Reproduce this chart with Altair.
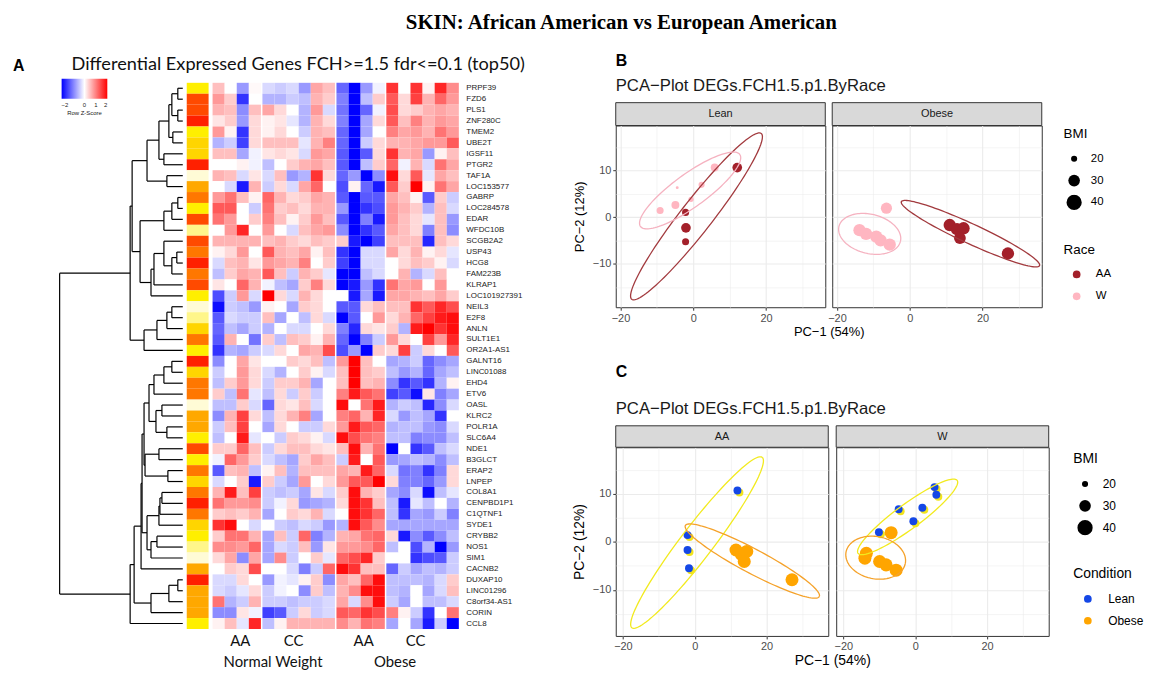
import altair as alt
import pandas as pd
import numpy as np

# ------------------------------------------------------------------ Panel A data
GENES = ["PRPF39", "FZD6", "PLS1", "ZNF280C", "TMEM2", "UBE2T", "IGSF11", "PTGR2", "TAF1A", "LOC153577",
         "GABRP", "LOC284578", "EDAR", "WFDC10B", "SCGB2A2", "USP43", "HCG8", "FAM223B", "KLRAP1", "LOC101927391",
         "NEIL3", "E2F8", "ANLN", "SULT1E1", "OR2A1-AS1", "GALNT16", "LINC01088", "EHD4", "ETV6", "OASL",
         "KLRC2", "POLR1A", "SLC6A4", "NDE1", "B3GLCT", "ERAP2", "LNPEP", "COL8A1", "CENPBD1P1", "C1QTNF1",
         "SYDE1", "CRYBB2", "NOS1", "SIM1", "CACNB2", "DUXAP10", "LINC01296", "C8orf34-AS1", "CORIN", "CCL8"]

# column group of each of the 20 samples: AA normal, CC normal, AA obese, CC obese
COL_GROUP = [0, 0, 0, 0, 1, 1, 1, 1, 1, 1, 2, 2, 2, 2, 3, 3, 3, 3, 3, 3]

HEAT = [
    [0.5, 0, -0.8, 0.05, -0.3, -0.4, -0.3, -0.8, 0.7, 0.5, -1.2, -2, -0.8, -0.1, 1.6, 0, 1.6, 0.1, 1.7, 0.9],
    [0.8, 0.4, -1.6, 0, -0.6, -0.6, -0.4, -0.5, 0.6, 0.4, -1.0, -2, -0.5, 0.4, 1.3, 0.3, 1.5, 0.6, 1.2, 0.8],
    [0.6, 0.5, -0.9, 0.5, 0.7, 0.3, 0, -0.6, 0.8, -0.3, -1.1, -2, -1.2, -0.1, 1.4, 0.3, 0.4, 0.6, 0.7, 0.6],
    [0.2, 0.4, -0.8, 0.3, 0.1, 0.2, -0.2, -0.6, 0.6, 0.3, -1.0, -2, -0.7, 0.3, 1.3, 0.5, 1.0, 0.6, 0.8, 0.7],
    [0.8, 0.1, -1.6, 0.3, 0.1, 0.3, 0, -0.4, 0.6, 0.5, -1.2, -2, -0.7, 0, 1.0, 0.7, 0.8, 0.6, 1.1, 0.8],
    [-0.6, -0.4, -1.5, 0.3, 0.5, 0.5, 0.5, -0.2, 0.6, 1.0, -1.2, -2, -0.4, 0.3, 0.6, 0.6, 0.7, 0.8, 0.8, 1.3],
    [0.5, 0.5, -0.7, -0.1, 0.2, 0.3, 0.2, -0.3, 0.8, 0.7, -1.3, -2, -1.3, 0.3, 1.6, 0.6, 0.7, -0.8, 0.1, 0.5],
    [0, 0, 0.1, -0.1, -0.5, 0, 0.4, 0.6, 0.7, 0.5, -1.3, -2, -0.5, 0.4, 1.2, -0.1, 0.6, -0.3, 1.1, 0.7],
    [0.6, 0.5, -0.3, 0.2, -0.3, 0.5, -0.8, -0.6, 1.6, 0.3, -1.2, -0.8, -2, -0.9, 1.9, 0.3, 1.3, -0.2, 0.7, 0.5],
    [0, -0.3, -1.8, 0.6, -0.4, 0.3, -0.3, 0.7, 1.2, 0, -1.4, 0.1, -1.2, -1.8, 1.3, 0.4, 2.0, 0.1, 1.1, 0.7],
    [0.8, 1.1, 0.5, 0.1, 1.2, 0.6, 0.3, 0.4, 0.7, 0.6, -1.3, -2, -1.3, -1.3, 0.7, 0.5, 0.1, -1.3, 0.4, -0.4],
    [1.3, 1.3, 0, -0.4, 1.1, 0.4, 0.5, 0.3, 0.6, 0.6, -0.8, -2, -1.6, -1.4, 0.8, 0.6, 0.4, -0.6, 0.5, -0.3],
    [1.1, 0.8, 0, 0.4, 1.0, 0.5, 0.1, 0.4, 0.8, 0.5, -1.3, -2, -1.0, -1.8, 0.8, 0.5, 0.3, -0.2, 0.5, -0.8],
    [0, 0.8, 1.7, 0, 0.8, 0, -0.3, 0.5, 0.7, 0.8, -0.9, -2, -1.6, -1.3, 0.7, 0.5, 0.3, -1.0, 0.5, -0.9],
    [0.6, 0.6, 0.6, 0.6, 0.5, 0.6, 0.4, 0.3, 0.5, 0.4, 0.4, -1.8, -2, -1.5, 0.5, 0.5, 0.5, -1.7, 0.5, 0.3],
    [0.1, 0.3, 0.8, 0, 1.3, 0.6, 0.5, 0.7, 0.1, 0.5, -1.6, -2, -0.3, -0.3, 0.7, 0.3, 0.6, 0.1, 0.3, -0.2],
    [-0.3, 0.5, 0.6, 0.2, 0.8, 0.7, 0.6, 1.0, 0, 0.4, -1.5, -2, -0.3, -0.3, 0, 0.3, 0.5, 0.4, 0.1, -0.3],
    [-0.5, 0.4, 0.7, 0.6, 1.3, 0.5, -0.4, 0.6, 0.4, -0.2, -2, -2, -0.5, -0.3, 0, 0.6, -0.6, -0.3, 0.5, 0],
    [0.2, 0, 1.2, 0.6, -0.1, -0.5, -0.7, 0.4, 1.0, 0.3, -2, -1.8, -0.8, -1.6, 1.1, 0.7, 0.8, 0, 0.8, 0],
    [-1.4, -0.4, 0.8, -0.3, 2.0, 0.3, -0.3, 0.6, 0.3, 0, 0, -1.8, -0.7, -1.8, 0.7, 0.7, 0.6, 0.5, 0.7, 0.4],
    [-1.9, -0.4, -0.5, -0.8, 0.1, 0, -0.7, 0.4, 0.3, 0, -1.3, -1.3, 0.3, 0.5, 0.5, 0.5, 1.6, 1.3, 1.7, 1.4],
    [-1.3, -0.3, -0.4, -0.4, 0.5, -0.7, 0, -0.5, 0.3, -0.3, -2, -1.3, 0, 0.8, 0.3, 0.6, 1.2, 1.5, 1.8, 1.9],
    [-1.2, -0.5, -0.7, -0.4, -0.6, 0, -0.3, -0.3, 0, 0.3, -1.0, -1.7, 0.3, 0.2, 0.4, -0.6, 1.8, 2.0, 1.6, 1.9],
    [-1.3, 0.6, 0, -1.1, 0.4, -0.5, 0.5, 0.4, 0.1, 0.6, -1.2, -2, -1.0, -0.4, 0.8, 0.3, 0, 1.5, 0.8, 1.7],
    [-1.6, -0.6, -0.7, -0.4, -0.3, 0.3, 0, 0.7, 0.6, 1.4, -1.4, -0.8, -2.0, 0.4, 0.3, 1.5, -0.4, 0.3, 0, 1.3],
    [-0.9, 0, 0.7, 0.2, 0, 0, 0.4, 0.3, 0.5, -0.5, 0.8, 2.0, 0.5, 0, -0.7, -0.6, -0.4, -1.2, -0.9, -0.7],
    [-0.4, 0, 0.8, 0.3, -0.3, -0.6, 0, 0.4, 0.1, -0.3, 0.5, 2.0, 0.5, 0.4, -0.5, -0.8, -0.6, -1.2, -0.7, -0.5],
    [-0.5, 0.4, 0.8, 0.3, -0.4, 0.4, 0.4, 0.6, -0.7, 0, 0.5, 2.0, 0.5, 0.6, -0.9, -1.6, -1.3, -1.6, -0.6, 0.1],
    [0.4, -0.5, 1.1, -0.2, -0.5, 0.3, -0.4, 0.4, -0.4, 0, 1.0, 1.8, 1.3, 1.1, -1.5, -1.3, -1.9, 0.2, -1.0, -0.7],
    [-0.5, -0.5, 0.4, -0.3, -1.2, 0.3, 0.2, 0.5, -0.3, 0, 1.9, 0, 1.1, 1.8, -0.6, -0.4, -0.5, -1.7, -0.9, -0.3],
    [-0.9, 0.6, 1.5, 0.3, -0.5, 0.3, 0.6, 1.0, -0.7, 0, 1.0, 1.2, 0.6, 1.7, -0.3, -0.8, -0.5, -0.7, -1.6, 0],
    [-0.4, 0.5, 1.5, 0, -0.7, 0.3, 0, -0.4, -0.4, 0.3, 0.8, 1.8, 1.3, 1.2, -0.6, -0.5, -0.5, -0.8, -0.9, -0.3],
    [-0.5, 0, 1.8, -0.2, 0, -0.4, 0.4, 0.3, 0.1, -0.3, 1.9, 1.4, 1.1, 1.0, -0.5, -0.5, -1.0, -0.9, -0.9, -0.5],
    [0.4, 0.4, 1.2, 0.5, -0.4, 0.3, 0.5, 0.5, 0.3, 0.2, 0.5, 1.9, 0.6, 1.1, -2.0, 0, -1.6, -1.3, -0.5, -0.3],
    [-0.1, 1.2, 0.8, 0.4, -0.3, -0.5, -0.7, 0.4, 0.7, 0.5, -0.4, 1.8, 0, 1.3, -0.8, -0.7, -0.5, -0.6, -0.9, -0.5],
    [-1.3, 0.5, 0.6, -0.5, 0.1, 0.5, -0.6, 0.5, 0.5, 0.5, 0.7, 0.6, 1.8, 1.2, -0.3, -1.1, -1.0, -1.6, -1.0, 0.3],
    [-0.3, 0, 0.4, -1.8, 0.4, -0.4, -0.7, 0.8, 0, 0.3, 0.8, 1.3, 1.3, 2.0, 0.3, -1.0, -1.0, -1.2, -0.8, 0.3],
    [0.6, 1.8, 0.5, 1.5, -0.4, -0.5, -0.4, -0.7, 0.2, -0.3, 0.4, 1.9, 0.6, 0.4, -0.7, -0.9, -0.3, -1.9, -0.5, -0.2],
    [1.1, 0.8, 0.8, 0.9, -0.4, -0.1, 0.3, -0.8, -0.7, -0.6, 0.3, 1.9, 1.6, 0.5, -0.5, -1.8, -0.2, -0.5, 0, -0.6],
    [0.4, 0.5, 0.4, 0.6, -0.7, 0, 0.4, 0.3, 0.6, -0.3, 0, 1.9, 1.6, 1.2, -0.5, -1.6, -0.7, -0.8, -0.4, -1.0],
    [1.6, 1.9, 0, -0.3, 0, -0.4, -0.5, -0.3, -0.4, -0.8, -0.6, 1.9, 1.3, 0.9, -0.7, -0.7, -0.7, -0.7, -0.7, -0.7],
    [0.4, 1.1, 1.1, 0.6, -0.7, 0.5, -0.4, 1.2, -1.0, -0.6, 0.6, 0.7, 1.1, 1.2, 0.3, -1.8, -0.9, -1.3, -0.9, -0.5],
    [0.9, 0.9, 0.8, 1.2, -0.7, -0.3, -0.4, 0.5, -0.8, 0.2, 0.8, 0.8, 0.9, 1.2, -0.5, 0, -1.4, -0.6, -2.0, -0.8],
    [0.3, 0.7, -0.9, 0.7, -0.7, 0.9, -0.4, 0, 0.4, -0.2, 1.2, 1.4, 1.7, 0.4, 0, 0, -1.6, -1.4, -1.3, -0.4],
    [0, 0.4, 0.3, 1.4, 0, 0, -0.3, -1.0, -0.4, 1.2, 1.9, 1.6, 0.5, 0.5, -1.2, -0.4, -0.7, -0.5, -0.6, -0.4],
    [-0.3, -0.3, 0.3, 0, -0.8, -0.1, -0.2, 0.1, 0.4, -0.9, 0.7, 0.5, 1.2, 1.9, -0.5, -0.5, -0.5, -0.6, -0.3, 0.4],
    [-0.3, -0.4, -0.2, 0.3, -0.4, -0.1, 0, -0.9, 0.4, -0.5, 0.6, 0.9, 1.9, 1.9, -0.5, -0.6, 0, -0.7, -0.3, 0.5],
    [1.1, -0.6, -0.4, 0.6, -0.4, -0.4, -0.5, -0.4, -0.4, -0.3, 0.7, -0.3, 0.9, 1.9, -0.4, -0.7, 0, -0.5, -0.5, -0.3],
    [-0.9, -0.9, 0.2, -0.1, -1.5, -1.3, -0.4, 0.3, -0.4, -0.3, 1.3, 1.2, 1.6, 1.4, 1.0, 0.1, -0.4, -1.6, 0, 1.1],
    [0.1, 0.5, -0.2, 1.7, -0.5, 0.1, 0.6, 0.6, 0.6, 0.6, 0.9, 0.6, 1.1, 1.0, -0.7, 0, -0.7, -1.8, -0.4, -2.0],
]

# row side colour bar (category level per gene)
SIDE_LEVEL = [3, 7, 7, 8, 3, 4, 4, 8, 1, 5,
              6, 3, 7, 2, 7, 6, 8, 6, 7, 3,
              1, 2, 4, 6, 3, 8, 4, 6, 6, 1,
              5, 5, 3, 7, 3, 6, 4, 6, 8, 6,
              4, 3, 2, 1, 5, 8, 5, 5, 5, 3]
SIDE_COLORS = ["#FFFBD6", "#FFF68A", "#FFEF00", "#FFD500", "#FFA800", "#FF7700", "#FF4A00", "#FF2000"]

GROUP_LABELS = ["AA", "CC", "AA", "CC"]
GROUP_LABEL_POS = [2.3, 6.7, 12.5, 16.8]
COND_LABELS = ["Normal Weight", "Obese"]
COND_LABEL_POS = [5.0, 15.1]

# row dendrogram: (merge height, left, right); leaves are row indices
TREE = (124,
        (53,
         (51,
          (36,
           (24, (14, (11, (5, 0, 1), (5, 2, 3)), (10, 4, 5)), (19, 6, 7)),
           (16, 8, 9)),
          (43,
           (19, (11, (5, 10, 11), 12), 13),
           (32, (29, (19, 14, (11, (6, 15, 16), 17)), 18), 19))),
         (39, (26, (16, (11, 20, 21), 22), 23), 24)),
        (53,
         (49,
          (42,
           (41,
            (39,
             (34, (29, (19, (11, 25, 26), 27), 28), (27, (21, 29, 30), (16, 31, 32))),
             (38, (24, 33, 34), (15, 35, 36))),
            (36, (24, (23, (21, 37, 38), 39), 40), (32, (26, 41, 42), 43))),
           44),
          (32, (14, (5, 45, 46), 47), 48)),
         49))

# ------------------------------------------------------------------ Panel B data (by race)
B_PANEL = ["Lean"] * 10 + ["Obese"] * 11
B_RACE = ["AA", "AA", "AA", "AA", "W", "W", "W", "W", "W", "W",
          "AA", "AA", "AA", "AA", "AA", "W", "W", "W", "W", "W", "W"]
B_PC1 = [12.1, -2.1, -2.0, -2.1, 5.9, 2.3, -4.4, -0.6, -4.9, -9.1,
         11.0, 13.0, 14.8, 13.8, 27.0, -6.4, -13.8, -12.0, -9.2, -8.0, -5.5]
B_PC2 = [10.6, 1.0, -2.3, -5.3, 10.6, 6.9, 6.3, 3.8, 2.6, 1.4,
         -1.7, -2.6, -2.4, -4.5, -7.8, 1.9, -2.8, -3.6, -4.2, -5.0, -5.9]
B_BMI = [25.8, 21.3, 25.8, 21.3, 22.6, 20.0, 17.0, 19.0, 22.6, 21.3,
         31.8, 31.8, 31.8, 30.5, 31.8, 29.0, 31.8, 31.8, 31.8, 31.8, 31.8]

B_ELL_PANEL = ["Lean", "Lean", "Obese", "Obese"]
B_ELL_GROUP = ["AA", "W", "AA", "W"]
B_ELL_CX = [0.9, -0.85, 16.7, -11.0]
B_ELL_CY = [0.15, 5.7, -3.55, -3.6]
B_ELL_UX = [17.8, 13.65, 19.0, 8.45]
B_ELL_UY = [17.75, 7.7, -6.85, -1.6]
B_ELL_K = [0.15, 0.27, 0.13, 0.62]

# ------------------------------------------------------------------ Panel C data (by condition)
C_PANEL = ["AA"] * 9 + ["W"] * 12
C_COND = ["Lean", "Lean", "Lean", "Lean", "Obese", "Obese", "Obese", "Obese", "Obese",
          "Lean", "Lean", "Lean", "Lean", "Lean", "Lean", "Obese", "Obese", "Obese", "Obese", "Obese", "Obese"]
C_PC1 = [11.9, -2.0, -2.0, -1.6, 11.5, 13.0, 14.5, 13.8, 27.1,
         5.4, 5.9, -4.6, 2.0, -0.5, -10.1, -6.7, -13.6, -14.0, -9.9, -8.1, -5.3]
C_PC2 = [10.7, 1.4, -1.7, -5.5, -1.7, -2.6, -2.0, -4.1, -7.9,
         11.4, 9.8, 6.8, 7.1, 4.3, 2.0, 1.9, -2.4, -3.4, -4.1, -4.8, -5.9]
C_BMI = [22.6, 22.6, 22.6, 22.6, 33.6, 33.6, 33.6, 33.6, 33.6,
         22.6, 22.6, 22.6, 22.6, 22.6, 22.6, 33.6, 33.6, 33.6, 33.6, 33.6, 33.6]

C_ELL_PANEL = ["AA", "AA", "W", "W"]
C_ELL_GROUP = ["Lean", "Obese", "Lean", "Obese"]
C_ELL_CX = [0.65, 16.05, -2.1, -11.0]
C_ELL_CY = [-0.15, -4.0, 5.2, -3.3]
C_ELL_UX = [18.15, 18.65, 13.8, 8.25]
C_ELL_UY = [17.75, -7.4, 7.6, -1.2]
C_ELL_K = [0.15, 0.16, 0.2, 0.7]

NO_VIEW = alt.ViewBackground(stroke="transparent", strokeWidth=0)

# ------------------------------------------------------------------ Panel A charts
GAP = 0.125
XMAX = 20 + 3 * GAP
heat_rows = []
for i, g in enumerate(GENES):
    for j, v in enumerate(HEAT[i]):
        x0 = j + GAP * COL_GROUP[j]
        heat_rows.append({"gene": g, "x": x0, "x2": x0 + 1, "z": v})
heat_df = pd.DataFrame(heat_rows)

segs = []


def walk(node):
    if isinstance(node, int):
        return node + 0.5, 0.0
    h, a, b = node
    ya, ha = walk(a)
    yb, hb = walk(b)
    segs.append({"h1": ha, "h2": h, "y1": ya, "y2": ya})
    segs.append({"h1": hb, "h2": h, "y1": yb, "y2": yb})
    segs.append({"h1": h, "h2": h, "y1": ya, "y2": yb})
    return (ya + yb) / 2, h


walk(TREE)
seg_df = pd.DataFrame(segs)

HM_H = 550
dendro_lines = alt.Chart(seg_df).mark_rule(color="black", strokeWidth=1.2).encode(
    x=alt.X("h1:Q", scale=alt.Scale(domain=[0, 124], reverse=True, nice=False, zero=False), axis=None),
    x2="h2:Q",
    y=alt.Y("y1:Q", scale=alt.Scale(domain=[0, 50], reverse=True, nice=False, zero=False), axis=None),
    y2="y2:Q",
)
a_label = alt.Chart(pd.DataFrame({"t": ["A"]})).mark_text(
    align="left", baseline="alphabetic", font="Liberation Sans", fontSize=16, fontWeight="bold", color="black"
).encode(x=alt.value(-47), y=alt.value(-12), text="t:N")
a_title = alt.Chart(pd.DataFrame({"t": ["Differential Expressed Genes FCH>=1.5 fdr<=0.1 (top50)"]})).mark_text(
    align="left", baseline="alphabetic", font="Lato", fontSize=18.3, color="#111111"
).encode(x=alt.value(12), y=alt.value(-12.7), text="t:N")
dendro = alt.layer(dendro_lines, a_label, a_title).properties(width=124, height=HM_H, view=NO_VIEW)

side_df = pd.DataFrame({"gene": GENES, "lvl": SIDE_LEVEL, "k": ["s"] * len(GENES)})
side = alt.Chart(side_df).mark_rect().encode(
    x=alt.X("k:N", axis=None, scale=alt.Scale(paddingInner=0, paddingOuter=0)),
    y=alt.Y("gene:N", sort=GENES, axis=None, scale=alt.Scale(paddingInner=0, paddingOuter=0)),
    color=alt.Color("lvl:O", scale=alt.Scale(domain=list(range(1, 9)), range=SIDE_COLORS), legend=None),
).properties(width=22, height=HM_H, view=NO_VIEW)

xs_heat = alt.Scale(domain=[0, XMAX], nice=False, zero=False)
heat_rect = alt.Chart(heat_df).mark_rect().encode(
    x=alt.X("x:Q", scale=xs_heat, axis=None),
    x2="x2:Q",
    y=alt.Y("gene:N", sort=GENES, scale=alt.Scale(paddingInner=0, paddingOuter=0),
            axis=alt.Axis(orient="right", title=None, domain=False, ticks=False, labelFontSize=8,
                          labelPadding=7, labelFont="Liberation Sans", labelColor="#222222",
                          labelOverlap=False)),
    color=alt.Color("z:Q",
                    scale=alt.Scale(domain=[-2, 0, 2], range=["#0000FF", "#FFFFFF", "#FF0000"],
                                    interpolate="rgb", clamp=True),
                    legend=alt.Legend(orient="none", legendX=-152, legendY=-4, direction="horizontal",
                                      gradientLength=46, gradientThickness=20, title="Row Z-Score",
                                      titleOrient="bottom", titleAnchor="middle", titleFontSize=6,
                                      titleFontWeight="normal", titleColor="#222222", titlePadding=2,
                                      labelFontSize=6, labelColor="#222222", labelOffset=3,
                                      values=[-2, 0, 1, 2], padding=0, gradientStrokeWidth=0)),
)
grp_text = alt.Chart(pd.DataFrame({"pos": GROUP_LABEL_POS, "lab": GROUP_LABELS})).mark_text(
    font="Lato", fontSize=15, baseline="middle", color="#111111"
).encode(x=alt.X("pos:Q", scale=xs_heat, axis=None), y=alt.value(562), text="lab:N")
cond_text = alt.Chart(pd.DataFrame({"pos": COND_LABEL_POS, "lab": COND_LABELS})).mark_text(
    font="Lato", fontSize=15, baseline="middle", color="#111111"
).encode(x=alt.X("pos:Q", scale=xs_heat, axis=None), y=alt.value(583), text="lab:N")
heat = alt.layer(heat_rect, grp_text, cond_text).properties(width=248, height=HM_H, view=NO_VIEW)

panelA = alt.hconcat(dendro, side, heat, spacing=4, bounds="flush").resolve_scale(
    color="independent", x="independent", y="independent").resolve_legend(color="independent")


# ------------------------------------------------------------------ PCA panels
def ellipse_df(panels, groups, cx, cy, ux, uy, k, sx, sy, n=120):
    rows = []
    t = np.linspace(0, 2 * np.pi, n)
    for e in range(len(panels)):
        vx = k[e] * (-uy[e] * sy) / sx
        vy = k[e] * (ux[e] * sx) / sy
        ex = cx[e] + ux[e] * np.cos(t) + vx * np.sin(t)
        ey = cy[e] + uy[e] * np.cos(t) + vy * np.sin(t)
        for i in range(n):
            rows.append({"panel": panels[e], "grp": groups[e], "eid": e, "o": i,
                         "pc1": float(ex[i]), "pc2": float(ey[i])})
    return pd.DataFrame(rows)


def cond(test, a, b):
    return {"condition": {"test": test, "value": a}, "value": b}


def x_axis(title=None, title_x=None, fs=13):
    kw = dict(values=[-20, -10, 0, 10, 20, 30],
              labelExpr="datum.value % 20 === 0 ? datum.label : ''",
              grid=True, gridColor="#EBEBEB",
              gridWidth=cond("datum.value % 20 === 0", 1.1, 0.55),
              tickOpacity=cond("datum.value % 20 === 0", 1, 0),
              tickColor="#333333", tickSize=3, domain=False, labelFontSize=11, labelColor="#4D4D4D",
              labelFont="Liberation Sans", labelPadding=2, labelFlush=False, labelOverlap=False)
    if title is None:
        kw["title"] = None
    else:
        kw.update(title=title, titleX=title_x, titleFontSize=fs, titleFontWeight="normal",
                  titleColor="black", titleFont="Liberation Sans", titlePadding=2)
    return alt.Axis(**kw)


def y_axis(show, fs=13):
    kw = dict(values=[-15, -10, -5, 0, 5, 10, 15], grid=True, gridColor="#EBEBEB",
              gridWidth=cond("datum.value % 10 === 0", 1.1, 0.55), domain=False)
    if show:
        kw.update(labelExpr="datum.value % 10 === 0 ? datum.label : ''",
                  tickOpacity=cond("datum.value % 10 === 0", 1, 0),
                  tickColor="#333333", tickSize=3, labelFontSize=11, labelColor="#4D4D4D",
                  labelFont="Liberation Sans", labelPadding=2, labelFlush=False, labelOverlap=False,
                  title="PC\u22122 (12%)", titleFontSize=fs, titleFontWeight="normal", titleColor="black",
                  titleFont="Liberation Sans", titlePadding=6)
    else:
        kw.update(labels=False, ticks=False, title=None)
    return alt.Axis(**kw)


def sym_legend(title, lx, ly, sym_off, lab_off, tfs, lfs, **extra):
    return alt.Legend(orient="none", legendX=lx, legendY=ly, direction="vertical", title=title,
                      titleFontSize=tfs, titleFontWeight="normal", titleColor="black",
                      titleFont="Liberation Sans", labelFontSize=lfs, labelColor="black",
                      labelFont="Liberation Sans", clipHeight=16, rowPadding=6, titlePadding=10,
                      symbolOffset=sym_off, labelOffset=lab_off, padding=0, symbolType="circle", **extra)


def pca_panel(pts, ell, panel, W, H, xdom, ydom, cfield, cdom, crange, edom, erange, strip_h,
              left, xtitle_x, fs, header=None, legends=None, shadow=None):
    p = pts[pts["panel"] == panel]
    e = ell[ell["panel"] == panel]
    xsc = alt.Scale(domain=xdom, nice=False, zero=False)
    ysc = alt.Scale(domain=ydom, nice=False, zero=False)
    xa = x_axis("PC\u22121 (54%)", xtitle_x, fs) if left else x_axis()
    ya = y_axis(left, fs)
    size_leg = legends["size"] if legends else None
    col_leg = legends["color"] if legends else None
    size_enc = alt.Size("bmi:Q", scale=alt.Scale(domain=[20, 40], range=[38, 235], zero=False),
                        legend=size_leg)
    layers = []
    strip_df = pd.DataFrame({"panel": [panel]})
    layers.append(alt.Chart(strip_df).mark_rect(fill="#D9D9D9", stroke="#333333", strokeWidth=1).encode(
        x=alt.value(0), x2=alt.value(W), y=alt.value(-strip_h), y2=alt.value(0)))
    layers.append(alt.Chart(strip_df).mark_text(font="Liberation Sans", fontSize=11, color="#1A1A1A",
                                                baseline="middle").encode(
        x=alt.value(W / 2), y=alt.value(-strip_h / 2), text="panel:N"))
    if shadow is not None:
        sp = p[p[cfield] == shadow]
        layers.append(alt.Chart(sp).mark_circle(opacity=1, color="#F2E41C", size=64, xOffset=2,
                                                yOffset=2).encode(
            x=alt.X("pc1:Q", scale=xsc, axis=xa), y=alt.Y("pc2:Q", scale=ysc, axis=ya)))
    layers.append(alt.Chart(p).mark_circle(opacity=1).encode(
        x=alt.X("pc1:Q", scale=xsc, axis=xa),
        y=alt.Y("pc2:Q", scale=ysc, axis=ya),
        color=alt.Color(cfield + ":N", scale=alt.Scale(domain=cdom, range=crange), legend=col_leg),
        size=size_enc))
    layers.append(alt.Chart(e).mark_line(strokeWidth=1.3, clip=True).encode(
        x=alt.X("pc1:Q", scale=xsc, axis=xa),
        y=alt.Y("pc2:Q", scale=ysc, axis=ya),
        stroke=alt.Stroke("grp:N", scale=alt.Scale(domain=edom, range=erange), legend=None),
        detail="eid:N", order="o:Q"))
    if header is not None:
        letter, ly, title, ty = header
        layers.append(alt.Chart(pd.DataFrame({"t": [letter]})).mark_text(
            align="left", baseline="alphabetic", font="Liberation Sans", fontSize=16, fontWeight="bold",
            color="black").encode(x=alt.value(0), y=alt.value(ly), text="t:N"))
        layers.append(alt.Chart(pd.DataFrame({"t": [title]})).mark_text(
            align="left", baseline="alphabetic", font="Liberation Sans", fontSize=16.8,
            color="#1A1A1A").encode(x=alt.value(0), y=alt.value(ty), text="t:N"))
    return alt.layer(*layers).properties(
        width=W, height=H, view=alt.ViewBackground(stroke="#333333", strokeWidth=1))


PCA_TITLE = "PCA\u2212Plot DEGs.FCH1.5.p1.ByRace"
IND = dict(color="independent", size="independent", stroke="independent")

# ---- B
BW, BH = 211, 183
BXD, BYD = [-21.3, 36.3], [-19.3, 19.6]
b_pts = pd.DataFrame({"panel": B_PANEL, "race": B_RACE, "pc1": B_PC1, "pc2": B_PC2, "bmi": B_BMI})
b_ell = ellipse_df(B_ELL_PANEL, B_ELL_GROUP, B_ELL_CX, B_ELL_CY, B_ELL_UX, B_ELL_UY, B_ELL_K,
                   BW / (BXD[1] - BXD[0]), BH / (BYD[1] - BYD[0]))
b_leg = {"size": sym_legend("BMI", 233, 2, 2.6, 8.8, 13.5, 11.5, values=[20, 30, 40],
                            symbolFillColor="black", symbolStrokeWidth=0),
         "color": sym_legend("Race", 233, 118.5, 7.4, 13.5, 13.5, 11.5, symbolSize=60, symbolStrokeWidth=0)}
b_kw = dict(W=BW, H=BH, xdom=BXD, ydom=BYD, cfield="race", cdom=["AA", "W"], crange=["#A3202A", "#FFB6C1"],
            edom=["AA", "W"], erange=["#A23A3E", "#F5B2C0"], strip_h=23, xtitle_x=BW + 3.5, fs=13)
b_left = pca_panel(b_pts, b_ell, "Lean", left=True, **b_kw)
b_right = pca_panel(b_pts, b_ell, "Obese", left=False, legends=b_leg, **b_kw)
panelB = alt.hconcat(b_left, b_right, spacing=7, bounds="flush").resolve_scale(
    x="independent", y="independent", **IND).resolve_legend(**IND)

# header block for B: its origin lines up with the heatmap top (y = 82 in the figure)
HDR_H = 18
b_hdr_letter = alt.Chart(pd.DataFrame({"t": ["B"]})).mark_text(
    align="left", baseline="alphabetic", font="Liberation Sans", fontSize=16, fontWeight="bold", color="black"
).encode(x=alt.value(0), y=alt.value(-17), text="t:N")
b_hdr_title = alt.Chart(pd.DataFrame({"t": [PCA_TITLE]})).mark_text(
    align="left", baseline="alphabetic", font="Liberation Sans", fontSize=16.8, color="#1A1A1A"
).encode(x=alt.value(0), y=alt.value(8), text="t:N")
b_hdr_box = alt.Chart(pd.DataFrame({"t": ["box"]})).mark_rect(opacity=0).encode(
    x=alt.value(0), x2=alt.value(10), y=alt.value(0), y2=alt.value(HDR_H))
b_header = alt.layer(b_hdr_box, b_hdr_letter, b_hdr_title).properties(width=BW, height=HDR_H, view=NO_VIEW)
blockB = alt.vconcat(b_header, panelB, spacing=1).resolve_scale(**IND).resolve_legend(**IND)

# ---- C
CW, CH = 214, 190
CXD, CYD = [-22.0, 37.2], [-19.6, 19.7]
c_pts = pd.DataFrame({"panel": C_PANEL, "cond": C_COND, "pc1": C_PC1, "pc2": C_PC2, "bmi": C_BMI})
c_ell = ellipse_df(C_ELL_PANEL, C_ELL_GROUP, C_ELL_CX, C_ELL_CY, C_ELL_UX, C_ELL_UY, C_ELL_K,
                   CW / (CXD[1] - CXD[0]), CH / (CYD[1] - CYD[0]))
c_leg = {"size": sym_legend("BMI", 238.6, 5, 4, 9.7, 14, 12, values=[20, 30, 40],
                            symbolFillColor="black", symbolStrokeWidth=0),
         "color": sym_legend("Condition", 238.6, 120.7, 8.8, 14.5, 14, 12, symbolSize=60, symbolStrokeWidth=0)}
c_kw = dict(W=CW, H=CH, xdom=CXD, ydom=CYD, cfield="cond", cdom=["Lean", "Obese"],
            crange=["#1447E6", "#FFA500"], edom=["Lean", "Obese"], erange=["#F2EA1E", "#F5A22A"],
            strip_h=21.6, xtitle_x=CW + 4, fs=14, shadow="Lean")
c_left = pca_panel(c_pts, c_ell, "AA", left=True, header=("C", -70.8, PCA_TITLE, -33.3), **c_kw)
c_right = pca_panel(c_pts, c_ell, "W", left=False, legends=c_leg, **c_kw)
panelC = alt.hconcat(c_left, c_right, spacing=8, bounds="flush").resolve_scale(
    x="independent", y="independent", **IND).resolve_legend(**IND)

right = alt.vconcat(blockB, panelC, spacing=24).resolve_scale(**IND).resolve_legend(**IND)

chart = alt.hconcat(panelA, right, spacing=46).resolve_scale(**IND).resolve_legend(**IND).properties(
    title=alt.TitleParams("SKIN: African American vs European American", anchor="middle",
                          font="Liberation Serif", fontSize=21, fontWeight="bold", color="black",
                          offset=20, dx=43),
    padding={"left": 5, "top": 2, "right": 5, "bottom": 2},
    background="white",
).configure_view(stroke="transparent", strokeWidth=0).configure(font="Liberation Sans")

chart.save("out.html", embed_options={"renderer": "svg", "actions": False})
